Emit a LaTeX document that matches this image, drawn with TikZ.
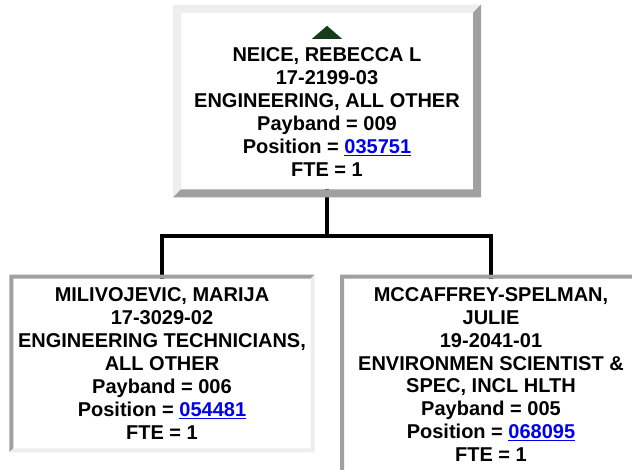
\documentclass[tikz,border=0pt]{standalone}
\usepackage{fontspec}
\setmainfont{Liberation Sans}
\usetikzlibrary{calc}
\definecolor{edgelight}{HTML}{EEEEEE}
\definecolor{edgedark}{HTML}{A0A0A0}
\definecolor{linkblue}{HTML}{0000EE}
\definecolor{markgreen}{HTML}{143C19}
\newcommand{\poslink}[1]{{\color{linkblue}\underline{#1}}}
\newcommand{\bevelframe}[4]{%
  \fill[#3] ($(#1.south west)+(-#2,#2)$) -- ($(#1.north west)+(-#2,-#2)$) -- ($(#1.north east)+(#2,-#2)$) -- (#1.north east) -- (#1.north west) -- (#1.south west) -- cycle;
  \fill[#4] ($(#1.north east)+(#2,-#2)$) -- ($(#1.south east)+(#2,#2)$) -- ($(#1.south west)+(-#2,#2)$) -- (#1.south west) -- (#1.south east) -- (#1.north east) -- cycle;
}
\tikzset{
  orgbox/.style={fill=white, inner sep=0pt, outer sep=0pt, align=center,
    font=\bfseries\fontsize{20}{22.9}\selectfont},
  orgline/.style={line width=4pt, black},
  upmark/.style={fill=markgreen}
}

\begin{document}
\begin{tikzpicture}[x=1pt, y=-1pt]
  \useasboundingbox[fill=white] (0,0) rectangle (632,469);
  \clip (0,0) rectangle (632,469);
  \node[orgbox, minimum width=292pt, minimum height=176.6pt] (boss) at (327,101)
    {\tikz\fill[upmark] (0,0) -- (30pt,0) -- (15pt,13pt) -- cycle;\\
     NEICE, REBECCA L\\ 17-2199-03\\ ENGINEERING, ALL OTHER\\ Payband = 009\\
     Position = \poslink{035751}\\ FTE = 1};
  \node[orgbox, minimum width=297.4pt, minimum height=169.6pt] (tech) at (162,363.5)
    {MILIVOJEVIC, MARIJA\\ 17-3029-02\\ ENGINEERING TECHNICIANS,\\ ALL OTHER\\
     Payband = 006\\ Position = \poslink{054481}\\ FTE = 1};
  \node[orgbox, minimum width=294pt, minimum height=191.6pt] (envi) at (491,374.5)
    {MCCAFFREY-SPELMAN,\\ JULIE\\ 19-2041-01\\ ENVIRONMEN SCIENTIST \&\\
     SPEC, INCL HLTH\\ Payband = 005\\ Position = \poslink{068095}\\ FTE = 1};
  \draw[orgline] (boss.south) -- ++(0,47) coordinate (split) -| (tech.north);
  \draw[orgline] (split) -| (envi.north);
  \bevelframe{boss}{8}{edgelight}{edgedark}
  \bevelframe{tech}{4}{edgedark}{edgelight}
  \bevelframe{envi}{4}{edgedark}{edgelight}
\end{tikzpicture}
\end{document}
